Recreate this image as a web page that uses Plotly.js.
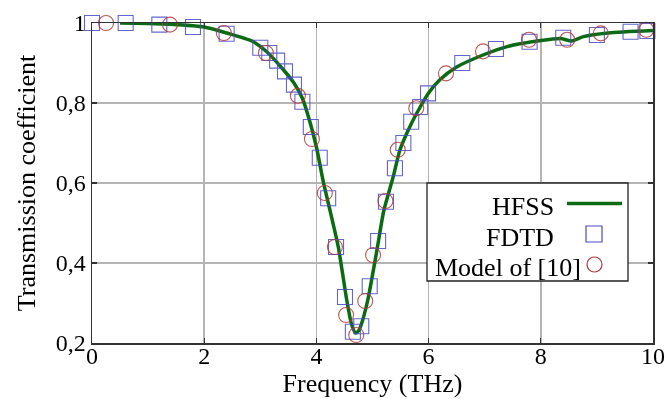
<!DOCTYPE html>
<html>
<head>
<meta charset="utf-8">
<script src="https://cdn.plot.ly/plotly-3.0.1.min.js"></script>
<style>html,body{margin:0;padding:0;background:#fff;}#chart{width:668px;height:399px;}</style>
</head>
<body>
<div id="chart"></div>
<script>
// HFSS simulation (solid line)
const hfssFreq = [0.5, 1.0, 1.4, 2.0, 2.4, 2.85, 3.1, 3.4, 3.6, 3.75, 3.88, 4.0, 4.12, 4.22, 4.39, 4.54, 4.63, 4.70, 4.76, 4.82, 4.92, 5.08, 5.2, 5.37, 5.49, 5.67, 5.85, 6.0, 6.2, 6.5, 6.97, 7.4, 8.0, 8.35, 8.55, 8.76, 9.2, 10.0];
const hfssT    = [1.000, 0.999, 0.997, 0.990, 0.975, 0.955, 0.930, 0.885, 0.850, 0.812, 0.755, 0.690, 0.605, 0.545, 0.440, 0.308, 0.245, 0.225, 0.232, 0.255, 0.310, 0.433, 0.530, 0.616, 0.683, 0.742, 0.790, 0.825, 0.858, 0.890, 0.920, 0.941, 0.956, 0.961, 0.955, 0.966, 0.975, 0.981];

// FDTD (open squares)
const fdtdFreq = [0.0, 0.6, 1.2, 1.8, 2.4, 3.0, 3.16, 3.30, 3.44, 3.60, 3.75, 3.90, 4.06, 4.21, 4.35, 4.51, 4.65, 4.80, 4.95, 5.10, 5.24, 5.40, 5.55, 5.69, 5.85, 5.99, 6.6, 7.2, 7.8, 8.4, 9.0, 9.6, 9.9];
const fdtdT    = [1.000, 1.000, 0.996, 0.990, 0.973, 0.938, 0.925, 0.906, 0.879, 0.846, 0.803, 0.740, 0.663, 0.562, 0.440, 0.315, 0.228, 0.242, 0.342, 0.455, 0.553, 0.637, 0.700, 0.753, 0.790, 0.824, 0.900, 0.935, 0.953, 0.963, 0.970, 0.978, 0.980];

// Model of [10] (open circles)
const modelFreq = [0.25, 1.39, 2.35, 3.10, 3.67, 3.92, 4.15, 4.33, 4.53, 4.71, 4.87, 5.01, 5.23, 5.45, 5.78, 6.31, 6.97, 7.79, 8.47, 9.07, 9.88];
const modelT    = [1.000, 0.996, 0.975, 0.925, 0.818, 0.710, 0.575, 0.440, 0.270, 0.220, 0.305, 0.420, 0.555, 0.683, 0.787, 0.874, 0.929, 0.958, 0.958, 0.974, 0.983];

const xTicks = [0, 2, 4, 6, 8, 10];
const yTicks = [0.2, 0.4, 0.6, 0.8, 1.0];
const legendLabels = ["HFSS", "FDTD", "Model of [10]"];

const FONT = "'Liberation Serif', 'Times New Roman', serif";
const green = "#0b6b12", blue = "#4a4ac8", red = "#b03a3a";

const traces = [
  {x: hfssFreq, y: hfssT, mode: "lines", line: {color: green, width: 3.5, shape: "spline", smoothing: 0.6}, name: legendLabels[0], cliponaxis: false},
  {x: fdtdFreq, y: fdtdT, mode: "markers", marker: {symbol: "square-open", size: 15, color: blue, line: {width: 1.1}}, opacity: 0.85, name: legendLabels[1], cliponaxis: false},
  {x: modelFreq, y: modelT, mode: "markers", marker: {symbol: "circle-open", size: 15, color: red, line: {width: 1.1}}, opacity: 0.85, name: legendLabels[2], cliponaxis: false}
];

// Legend drawn manually (symbols to the right of the text)
const L = 92, R = 653, T = 23, B = 343;
const px = v => (v - L) / (R - L);
const py = v => (B - v) / (B - T);
const rowY = [203.5, 234, 264.5];
const shapes = [
  {type: "rect", xref: "paper", yref: "paper", x0: px(427), x1: px(628), y0: py(281), y1: py(183), fillcolor: "#fff", line: {color: "#222", width: 1.3}, layer: "above"},
  {type: "line", xref: "paper", yref: "paper", x0: px(567), x1: px(622), y0: py(rowY[0]), y1: py(rowY[0]), line: {color: green, width: 3.5}},
  {type: "rect", xref: "paper", yref: "paper", x0: px(586), x1: px(602), y0: py(rowY[1] + 8), y1: py(rowY[1] - 8), line: {color: blue, width: 1.2}},
  {type: "circle", xref: "paper", yref: "paper", x0: px(587), x1: px(602), y0: py(rowY[2] + 7.5), y1: py(rowY[2] - 7.5), line: {color: red, width: 1.2}}
];
const annotations = legendLabels.map((t, i) => ({
  text: t, xref: "paper", yref: "paper",
  x: i < 2 ? px(556) : px(433), xanchor: i < 2 ? "right" : "left",
  y: py(rowY[i] + 3), yanchor: "middle",
  showarrow: false, font: {family: FONT, size: 26, color: "#000"}
}));

const axisCommon = {
  showline: true, linecolor: "#333", linewidth: 1.5, mirror: "ticks",
  ticks: "inside", ticklen: 5, tickcolor: "#333", tickwidth: 1.3,
  showgrid: true, gridcolor: "#b4b4b4", gridwidth: 1.5, zeroline: false,
  tickfont: {family: FONT, size: 24, color: "#000"}
};

const layout = {
  width: 668, height: 399,
  margin: {l: L, r: 668 - R, t: T, b: 399 - B},
  paper_bgcolor: "#fff", plot_bgcolor: "#fff",
  separators: ", ",
  showlegend: false,
  font: {family: FONT, color: "#000"},
  xaxis: Object.assign({}, axisCommon, {range: [0, 10], tickvals: xTicks, ticktext: xTicks.map(String),
    ticklabelstandoff: -9,
    title: {text: "Frequency (THz)", font: {family: FONT, size: 26, color: "#000"}, standoff: 2}}),
  yaxis: Object.assign({}, axisCommon, {range: [0.2, 1.0], tickvals: yTicks, ticktext: yTicks.map(v => v === 1 ? "1" : String(v).replace(".", ",")),
    title: {text: "Transmission coefficient", font: {family: FONT, size: 26, color: "#000"}, standoff: 12}}),
  shapes: shapes,
  annotations: annotations
};

Plotly.newPlot("chart", traces, layout, {staticPlot: true, displayModeBar: false});
</script>
</body>
</html>
